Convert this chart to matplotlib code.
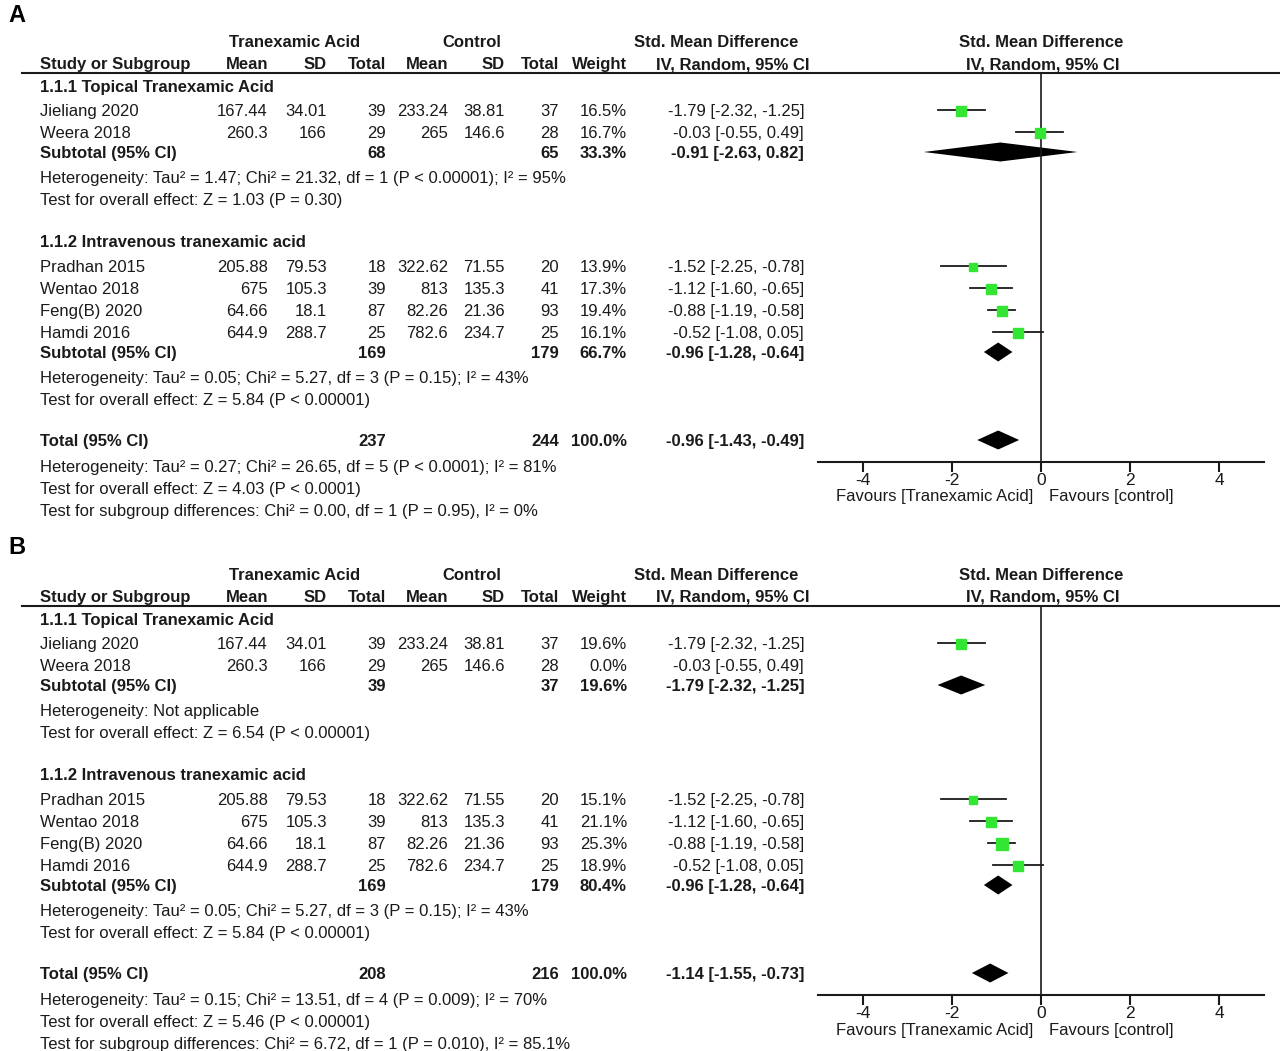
import matplotlib
matplotlib.use("Agg")
import matplotlib.pyplot as plt
from matplotlib import font_manager

# ----------------------------
# Data
# ----------------------------
studies_topical = ["Jieliang 2020", "Weera 2018"]
studies_iv = ["Pradhan 2015", "Wentao 2018", "Feng(B) 2020", "Hamdi 2016"]

tx_mean = ["167.44", "260.3", "205.88", "675", "64.66", "644.9"]
tx_sd = ["34.01", "166", "79.53", "105.3", "18.1", "288.7"]
tx_n = [39, 29, 18, 39, 87, 25]
ct_mean = ["233.24", "265", "322.62", "813", "82.26", "782.6"]
ct_sd = ["38.81", "146.6", "71.55", "135.3", "21.36", "234.7"]
ct_n = [37, 28, 20, 41, 93, 25]

smd = [-1.79, -0.03, -1.52, -1.12, -0.88, -0.52]
ci_lo = [-2.32, -0.55, -2.25, -1.60, -1.19, -1.08]
ci_hi = [-1.25, 0.49, -0.78, -0.65, -0.58, 0.05]

weights_a = [16.5, 16.7, 13.9, 17.3, 19.4, 16.1]
weights_b = [19.6, 0.0, 15.1, 21.1, 25.3, 18.9]

# pooled rows: topical subtotal, iv subtotal, total
pooled_tx_n_a = [68, 169, 237]
pooled_ct_n_a = [65, 179, 244]
pooled_w_a = [33.3, 66.7, 100.0]
pooled_smd_a = [-0.91, -0.96, -0.96]
pooled_lo_a = [-2.63, -1.28, -1.43]
pooled_hi_a = [0.82, -0.64, -0.49]

pooled_tx_n_b = [39, 169, 208]
pooled_ct_n_b = [37, 179, 216]
pooled_w_b = [19.6, 80.4, 100.0]
pooled_smd_b = [-1.79, -0.96, -1.14]
pooled_lo_b = [-2.32, -1.28, -1.55]
pooled_hi_b = [-1.25, -0.64, -0.73]

het_a = [
    "Heterogeneity: Tau² = 1.47; Chi² = 21.32, df = 1 (P < 0.00001); I² = 95%",
    "Test for overall effect: Z = 1.03 (P = 0.30)",
    "Heterogeneity: Tau² = 0.05; Chi² = 5.27, df = 3 (P = 0.15); I² = 43%",
    "Test for overall effect: Z = 5.84 (P < 0.00001)",
    "Heterogeneity: Tau² = 0.27; Chi² = 26.65, df = 5 (P < 0.0001); I² = 81%",
    "Test for overall effect: Z = 4.03 (P < 0.0001)",
    "Test for subgroup differences: Chi² = 0.00, df = 1 (P = 0.95), I² = 0%",
]
het_b = [
    "Heterogeneity: Not applicable",
    "Test for overall effect: Z = 6.54 (P < 0.00001)",
    "Heterogeneity: Tau² = 0.05; Chi² = 5.27, df = 3 (P = 0.15); I² = 43%",
    "Test for overall effect: Z = 5.84 (P < 0.00001)",
    "Heterogeneity: Tau² = 0.15; Chi² = 13.51, df = 4 (P = 0.009); I² = 70%",
    "Test for overall effect: Z = 5.46 (P < 0.00001)",
    "Test for subgroup differences: Chi² = 6.72, df = 1 (P = 0.010), I² = 85.1%",
]

x_ticks = [-4, -2, 0, 2, 4]

# ----------------------------
# Style
# ----------------------------
names = {f.name for f in font_manager.fontManager.ttflist}
FONT = "Liberation Sans Narrow" if "Liberation Sans Narrow" in names else "Liberation Sans"
plt.rcParams["font.family"] = [FONT, "DejaVu Sans"]
FS = 12.0
INK = "#1a1a1a"
GREEN = "#33e633"

fig = plt.figure(figsize=(12.8, 10.51), dpi=100)
tax = fig.add_axes([0, 0, 1, 1])
tax.set_xlim(0, 1280)
tax.set_ylim(1051, 0)
tax.axis("off")

# column right edges (pixels)
COLS = [268, 327, 386, 448, 505, 559, 627]
CI_RIGHT = 804
BASE = 6  # centre -> baseline shift


def txt(x, y, s, ha="left", bold=False, size=FS):
    tax.text(x, y + BASE, s, ha=ha, va="baseline", fontsize=size,
             fontweight="bold" if bold else "normal", color=INK)


def ci_str(m, lo, hi):
    return f"{m:.2f} [{lo:.2f}, {hi:.2f}]"


def draw_panel(label, off, weights, p_tx, p_ct, p_w, p_smd, p_lo, p_hi, het):
    tax.text(8, off + 15, label, ha="left", va="center", fontsize=17,
             fontweight="bold", color="black")

    # header
    txt(295, off + 41, "Tranexamic Acid", ha="center", bold=True)
    txt(472, off + 41, "Control", ha="center", bold=True)
    txt(716, off + 41, "Std. Mean Difference", ha="center", bold=True)
    txt(1041, off + 41, "Std. Mean Difference", ha="center", bold=True)
    txt(40, off + 63, "Study or Subgroup", bold=True)
    for x, s in zip(COLS, ["Mean", "SD", "Total", "Mean", "SD", "Total", "Weight"]):
        txt(x, off + 63, s, ha="right", bold=True)
    txt(733, off + 63, "IV, Random, 95% CI", ha="center", bold=True)
    txt(1043, off + 63, "IV, Random, 95% CI", ha="center", bold=True)
    tax.plot([22, 1280], [off + 73, off + 73], color=INK, lw=1.5)

    study_rows = [110, 132, 266, 288, 310, 332]
    names_all = studies_topical + studies_iv
    txt(40, off + 86, "1.1.1 Topical Tranexamic Acid", bold=True)
    txt(40, off + 241, "1.1.2 Intravenous tranexamic acid", bold=True)
    for i, y in enumerate(study_rows):
        txt(40, off + y, names_all[i])
        vals = [tx_mean[i], tx_sd[i], str(tx_n[i]), ct_mean[i], ct_sd[i],
                str(ct_n[i]), f"{weights[i]:.1f}%"]
        for x, s in zip(COLS, vals):
            txt(x, off + y, s, ha="right")
        txt(CI_RIGHT, off + y, ci_str(smd[i], ci_lo[i], ci_hi[i]), ha="right")

    pooled_rows = [152, 352, 440]
    pooled_names = ["Subtotal (95% CI)", "Subtotal (95% CI)", "Total (95% CI)"]
    for k, y in enumerate(pooled_rows):
        txt(40, off + y, pooled_names[k], bold=True)
        txt(COLS[2], off + y, str(p_tx[k]), ha="right", bold=True)
        txt(COLS[5], off + y, str(p_ct[k]), ha="right", bold=True)
        txt(COLS[6], off + y, f"{p_w[k]:.1f}%", ha="right", bold=True)
        txt(CI_RIGHT, off + y, ci_str(p_smd[k], p_lo[k], p_hi[k]), ha="right", bold=True)

    for y, s in zip([177, 199, 377, 399, 466, 488, 510], het):
        txt(40, off + y, s)

    # forest plot
    top, bot = off + 73, off + 462
    fax = fig.add_axes([818 / 1280, 1 - bot / 1051, (1264 - 818) / 1280, (bot - top) / 1051])
    fax.set_xlim(-5, 5)
    fax.set_ylim(bot, top)
    fax.patch.set_alpha(0)
    for side in ["top", "right", "left"]:
        fax.spines[side].set_visible(False)
    fax.spines["bottom"].set_linewidth(1.5)
    fax.spines["bottom"].set_color(INK)
    fax.set_yticks([])
    fax.set_xticks(x_ticks)
    fax.set_xticklabels([str(t) for t in x_ticks])
    fax.tick_params(axis="x", length=7, width=1.5, color=INK, labelsize=FS + 0.5,
                    labelcolor=INK, pad=1)
    fax.axvline(0, color=INK, lw=1.2)

    for i, y in enumerate(study_rows):
        # studies with zero weight are not drawn
        if weights[i] > 0:
            fax.plot([ci_lo[i], ci_hi[i]], [off + y, off + y], color=INK, lw=1.3)
            fax.plot(smd[i], off + y + 1, marker="s", ms=1.65 * weights[i] ** 0.5,
                     color=GREEN, mec=GREEN, ls="none")
    for k, y in enumerate(pooled_rows):
        yc = off + y
        fax.fill([p_lo[k], p_smd[k], p_hi[k], p_smd[k]],
                 [yc, yc - 9.5, yc, yc + 9.5], color="black", lw=0)

    tax.text(1033, off + 497, "Favours [Tranexamic Acid]", ha="right", va="center",
             fontsize=FS, color=INK)
    tax.text(1049, off + 497, "Favours [control]", ha="left", va="center",
             fontsize=FS, color=INK)


draw_panel("A", 0, weights_a, pooled_tx_n_a, pooled_ct_n_a, pooled_w_a,
           pooled_smd_a, pooled_lo_a, pooled_hi_a, het_a)
draw_panel("B", 533, weights_b, pooled_tx_n_b, pooled_ct_n_b, pooled_w_b,
           pooled_smd_b, pooled_lo_b, pooled_hi_b, het_b)

fig.savefig("out.png", dpi=100, facecolor="white")
